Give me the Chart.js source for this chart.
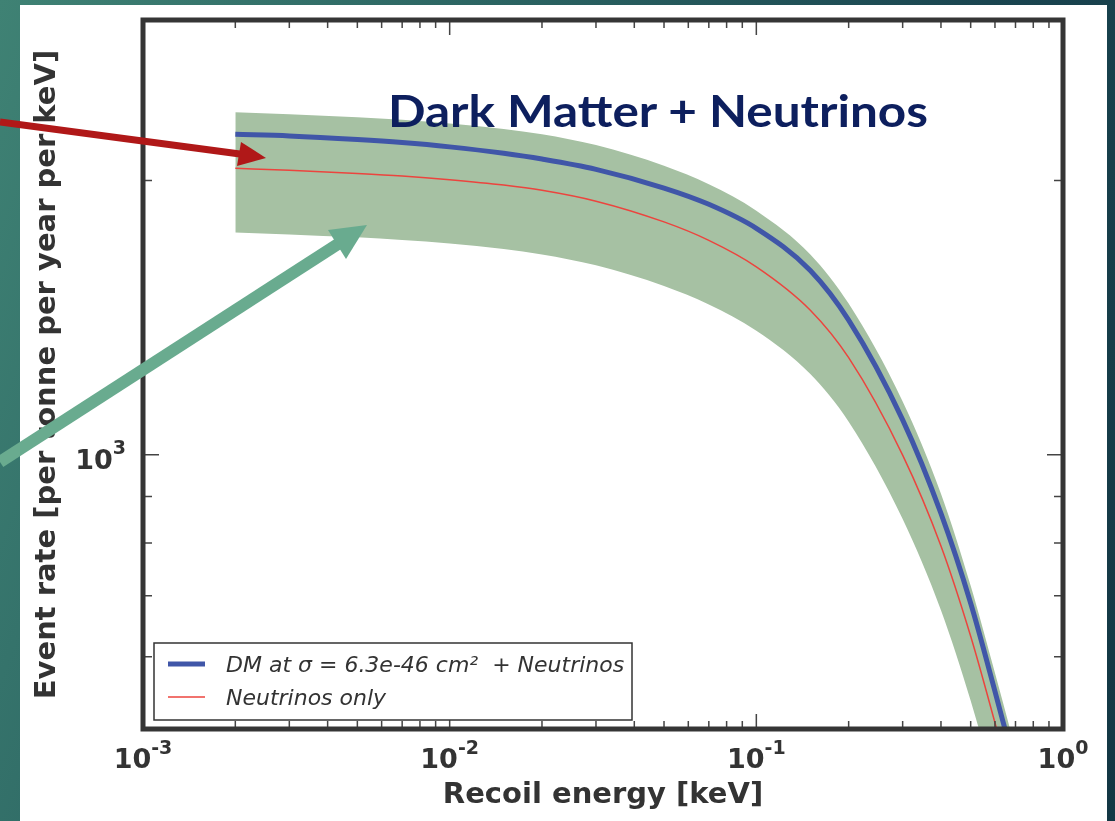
<!DOCTYPE html>
<html>
<head>
<meta charset="utf-8">
<script src="https://cdn.jsdelivr.net/npm/chart.js@4.4.1/dist/chart.umd.min.js"></script>
<style>
  html, body { margin: 0; padding: 0; }
  body {
    width: 1115px; height: 821px; overflow: hidden; position: relative;
    background: linear-gradient(110deg, #3f8274 0%, #2b6462 35%, #1a4550 70%, #133744 100%);
  }
  #panel { position: absolute; left: 20px; top: 5px; width: 1087px; height: 816px; background: #fff; }
  #chart { position: absolute; left: 0; top: 0; }
  #title {
    position: absolute; left: 368px; top: 84px; line-height: 1;
    font-family: "Lato", sans-serif; font-weight: 700; font-size: 43px; color: #0d1f5e;
    white-space: nowrap; transform: scaleX(1.15); transform-origin: 0 0;
  }
  #arrows { position: absolute; left: 0; top: 0; }
</style>
</head>
<body>
<div id="panel">
  <canvas id="chart" width="1087" height="816"></canvas>
  <div id="title">Dark Matter + Neutrinos</div>
</div>
<svg id="arrows" width="1115" height="821">
  <!-- red arrow -->
  <line x1="0" y1="122" x2="240" y2="154" stroke="#b01818" stroke-width="7"/>
  <polygon points="266,158 237,166 241,142" fill="#b01818"/>
  <!-- green arrow -->
  <line x1="0" y1="462" x2="338" y2="244" stroke="#69ab8f" stroke-width="12"/>
  <polygon points="367,225 346,259 328,230" fill="#69ab8f"/>
</svg>
<script>
// ---------------- data ----------------
const energy = [0.002, 0.003, 0.005, 0.007, 0.01, 0.015, 0.02, 0.03, 0.05, 0.07, 0.1, 0.15, 0.2, 0.3, 0.4, 0.5, 0.6, 0.7];
const dmPlusNu = [2247, 2238, 2218, 2201, 2177, 2142, 2111, 2057, 1962, 1883, 1772, 1593, 1405, 1092, 862, 687, 550, 452];
const nuOnly = [2062, 2052, 2036, 2023, 2004, 1977, 1951, 1898, 1801, 1719, 1608, 1441, 1278, 999, 794, 632, 508, 419];
const bandUpper = [2376, 2364, 2346, 2331, 2310, 2278, 2248, 2187, 2076, 1981, 1853, 1659, 1465, 1144, 906, 718, 576, 475];
const bandLower = [1754, 1745, 1732, 1720, 1705, 1682, 1659, 1614, 1532, 1462, 1368, 1226, 1087, 850, 675, 537, 432, 356];

const xMajor = [0.001, 0.01, 0.1, 1];
const xTickExp = ["-3", "-2", "-1", "0"];
const yMajor = [1000];
const yTickExp = ["3"];
const tickBase = "10";
const xRange = [0.001, 1];
const yRange = [500, 3000];

const dmLabel = "DM at \u03C3 = 6.3e-46 cm\u00B2  + Neutrinos";
const nuLabel = "Neutrinos only";

// ---------------- helpers ----------------
const pts = arr => energy.map((e, i) => ({ x: e, y: arr[i] }));
const near = (a, b) => Math.abs(a - b) / b < 1e-9;

// log ticks 1..9 x 10^k inside a range
function logTicks(min, max) {
  const out = [];
  for (let k = Math.floor(Math.log10(min)); k <= Math.ceil(Math.log10(max)); k++) {
    for (let m = 1; m <= 9; m++) {
      const v = m * Math.pow(10, k);
      if (v >= min * (1 - 1e-9) && v <= max * (1 + 1e-9)) out.push(v);
    }
  }
  return out;
}

const titleFont = { family: "DejaVu Sans", size: 29, weight: "bold" };
const baseFont = 'bold 27px "DejaVu Sans"';
const supFont = 'bold 19px "DejaVu Sans"';

// 10^n label with a raised exponent
function powerLabel(ctx, base, exp, x, y, align, supRise) {
  ctx.font = baseFont;
  const wb = ctx.measureText(base).width;
  ctx.font = supFont;
  const ws = ctx.measureText(exp).width;
  let x0 = x;
  if (align === "center") x0 = x - (wb + ws) / 2;
  if (align === "right") x0 = x - (wb + ws);
  ctx.textAlign = "left";
  ctx.textBaseline = "alphabetic";
  ctx.font = baseFont;
  ctx.fillText(base, x0, y);
  ctx.font = supFont;
  ctx.fillText(exp, x0 + wb, y - supRise);
}

// inward ticks on all four sides, thick frame, tick labels
const framePlugin = {
  id: "frame",
  afterDatasetsDraw(chart) {
    const { ctx, chartArea: a, scales: { x, y } } = chart;
    ctx.save();
    ctx.strokeStyle = "#444";
    ctx.lineWidth = 1.5;
    ctx.beginPath();
    x.ticks.forEach(t => {
      const px = x.getPixelForValue(t.value);
      const len = xMajor.some(m => near(t.value, m)) ? 15 : 8;
      ctx.moveTo(px, a.bottom); ctx.lineTo(px, a.bottom - len);
      ctx.moveTo(px, a.top); ctx.lineTo(px, a.top + len);
    });
    y.ticks.forEach(t => {
      const py = y.getPixelForValue(t.value);
      const len = yMajor.some(m => near(t.value, m)) ? 16 : 9;
      ctx.moveTo(a.left, py); ctx.lineTo(a.left + len, py);
      ctx.moveTo(a.right, py); ctx.lineTo(a.right - len, py);
    });
    ctx.stroke();
    ctx.lineWidth = 5;
    ctx.strokeStyle = "#353535";
    ctx.strokeRect(a.left, a.top, a.right - a.left, a.bottom - a.top);

    ctx.fillStyle = "#333";
    xMajor.forEach((v, i) => {
      powerLabel(ctx, tickBase, xTickExp[i], x.getPixelForValue(v), a.bottom + 39, "center", 14);
    });
    yMajor.forEach((v, i) => {
      powerLabel(ctx, tickBase, yTickExp[i], a.left - 17, y.getPixelForValue(v) + 14, "right", 15);
    });
    ctx.restore();
  }
};

// legend box in the lower-left corner of the plot
const legendPlugin = {
  id: "boxLegend",
  afterDraw(chart) {
    const { ctx, chartArea: a } = chart;
    const items = chart.data.datasets.filter(d => d.inLegend);
    ctx.save();
    const bx = a.left + 11, by = a.bottom - 86, bw = 478, bh = 77;
    ctx.fillStyle = "#fff";
    ctx.fillRect(bx, by, bw, bh);
    ctx.strokeStyle = "#333";
    ctx.lineWidth = 1.5;
    ctx.strokeRect(bx, by, bw, bh);
    ctx.font = 'italic 22px "DejaVu Sans"';
    ctx.textBaseline = "middle";
    ctx.fillStyle = "#333";
    items.forEach((d, i) => {
      const ly = by + 21 + i * 33;
      ctx.strokeStyle = d.borderColor;
      ctx.lineWidth = d.borderWidth;
      ctx.beginPath();
      ctx.moveTo(bx + 14, ly); ctx.lineTo(bx + 51, ly);
      ctx.stroke();
      ctx.fillText(d.label, bx + 72, ly + 2);
    });
    ctx.restore();
  }
};

new Chart(document.getElementById("chart"), {
  type: "line",
  data: {
    datasets: [
      { label: dmLabel, data: pts(dmPlusNu), borderColor: "rgb(64,86,168)", borderWidth: 5,
        pointRadius: 0, fill: false, cubicInterpolationMode: "monotone", inLegend: true },
      { label: nuLabel, data: pts(nuOnly), borderColor: "rgb(236,68,62)", borderWidth: 1.5,
        pointRadius: 0, fill: false, cubicInterpolationMode: "monotone", inLegend: true },
      { label: "band upper", data: pts(bandUpper), borderWidth: 0, borderColor: "rgba(0,0,0,0)",
        backgroundColor: "rgb(166,193,163)", pointRadius: 0, fill: "+1", cubicInterpolationMode: "monotone" },
      { label: "band lower", data: pts(bandLower), borderWidth: 0, borderColor: "rgba(0,0,0,0)",
        pointRadius: 0, fill: false, cubicInterpolationMode: "monotone" }
    ]
  },
  options: {
    responsive: false,
    animation: false,
    events: [],
    layout: { padding: { left: 0, top: 15, right: 44, bottom: 0 } },
    plugins: { legend: { display: false }, tooltip: { enabled: false } },
    scales: {
      x: {
        type: "logarithmic", position: "bottom", min: xRange[0], max: xRange[1],
        afterBuildTicks: s => { s.ticks = logTicks(xRange[0], xRange[1]).map(v => ({ value: v })); },
        afterFit: s => { s.height = 92; s.paddingLeft = 0; s.paddingRight = 0; },
        grid: { display: false, drawTicks: false },
        border: { display: false },
        ticks: { display: false },
        title: { display: true, text: "Recoil energy [keV]", color: "#333", font: titleFont,
          padding: { top: 0, bottom: 8 } }
      },
      y: {
        type: "logarithmic", position: "left", min: yRange[0], max: yRange[1],
        afterBuildTicks: s => { s.ticks = logTicks(yRange[0], yRange[1]).map(v => ({ value: v })); },
        afterFit: s => { s.width = 123; s.paddingTop = 0; s.paddingBottom = 0; },
        grid: { display: false, drawTicks: false },
        border: { display: false },
        ticks: { display: false },
        title: { display: true, text: "Event rate [per tonne per year per keV]", color: "#333", font: titleFont,
          padding: { top: 10, bottom: 0 } }
      }
    }
  },
  plugins: [framePlugin, legendPlugin]
});
</script>
</body>
</html>
